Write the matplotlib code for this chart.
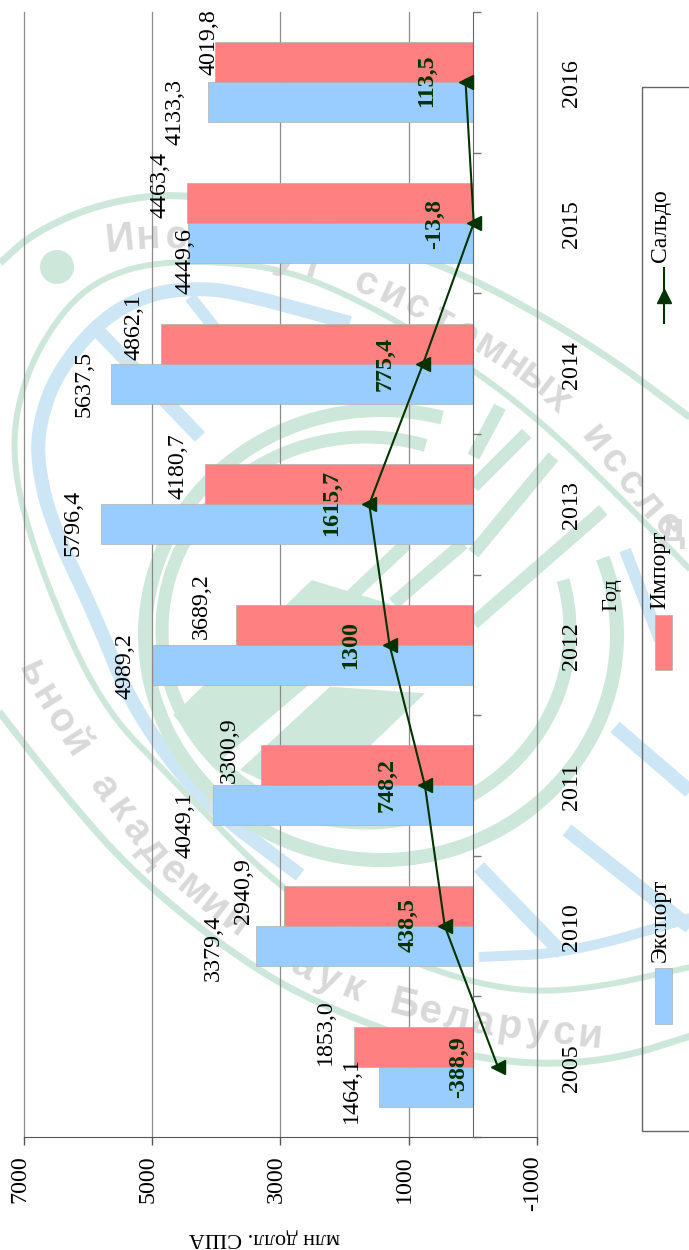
import numpy as np
import matplotlib
matplotlib.use("Agg")
import matplotlib.pyplot as plt
from matplotlib.patches import Rectangle, Polygon
from matplotlib.transforms import ScaledTranslation

W, H = 689, 1250
DPI = 100

years = ["2005", "2010", "2011", "2012", "2013", "2014", "2015", "2016"]
export = [1464.1, 3379.4, 4049.1, 4989.2, 5796.4, 5637.5, 4449.6, 4133.3]
imports = [1853.0, 2940.9, 3300.9, 3689.2, 4180.7, 4862.1, 4463.4, 4019.8]
saldo = [-388.9, 438.5, 748.2, 1300, 1615.7, 775.4, -13.8, 113.5]
value_ticks = [7000, 5000, 3000, 1000, -1000]

# label placement (pixel centres), same order as the data
export_lab_xy = [(351, 1090), (213, 948), (185, 825), (125, 666), (73, 523), (84, 384), (185, 261), (175, 112)]
import_lab_xy = [(325, 1032), (243, 891), (229, 750), (201, 606), (178, 466), (134, 327), (160, 185), (209, 42)]
saldo_lab_xy = [(459, 1067), (408, 925), (387, 785), (351, 645), (332, 503), (385, 364), (435, 224), (427, 81)]

RED, BLUE = "#FF8080", "#99CCFF"
DARK = "#003300"
SERIF = "Liberation Serif"
FS = 17.3

fig = plt.figure(figsize=(W / DPI, H / DPI), dpi=DPI, facecolor="white")


def px_axes(z):
    a = fig.add_axes([0, 0, 1, 1], zorder=z)
    a.set_xlim(0, W)
    a.set_ylim(H, 0)
    a.axis("off")
    a.patch.set_alpha(0)
    return a


# ---------- watermark (background logo) ----------
wm = px_axes(0)
GR, BL, GY = "#CDE8DA", "#CCE6F5", "#D9D9D9"


def smooth(pts, it=3):
    p = np.array(pts, float)
    for _ in range(it):
        q = 0.75 * p[:-1] + 0.25 * p[1:]
        r = 0.25 * p[:-1] + 0.75 * p[1:]
        n = np.empty((2 * len(q), 2))
        n[0::2], n[1::2] = q, r
        p = np.vstack([p[:1], n, p[-1:]])
    return p


def band(pts, w, color=GR):
    p = smooth(pts)
    wm.plot(p[:, 0], p[:, 1], color=color, lw=w * 0.72, solid_capstyle="butt")


def ell(cx, cy, a, b, t0, t1, w):
    t = np.radians(np.linspace(t0, t1, 300))
    wm.plot(cx + a * np.cos(t), cy + b * np.sin(t), color=GR, lw=w * 0.72, solid_capstyle="butt")


def stroke(a, b, w, color=GR):
    wm.plot([a[0], b[0]], [a[1], b[1]], color=color, lw=w * 0.72, solid_capstyle="butt")


# outer and inner rings, upper and lower halves
band([(0, 263), (33, 233), (100, 203), (183, 192), (300, 215), (400, 250), (483, 283), (600, 350), (700, 425)], 7)
band([(-10, 700), (60, 790), (130, 870), (220, 945), (307, 1000), (439, 1050), (527, 1065), (615, 1060), (700, 1033)], 7)
band([(700, 580), (630, 507), (540, 420), (460, 360), (370, 305), (281, 267), (183, 260), (117, 270), (67, 303),
      (23, 377), (10, 460), (40, 570), (100, 705), (173, 780), (280, 890), (380, 950), (483, 987), (571, 993),
      (700, 965)], 6)
# blue ring and strokes
band([(350, 323), (240, 293), (200, 288), (150, 293), (100, 320), (57, 373), (40, 420), (37, 460), (50, 520),
      (97, 620), (132, 707), (200, 800), (300, 875)], 14, BL)
stroke((100, 333), (200, 437), 14, BL)
stroke((190, 297), (240, 360), 12, BL)
stroke((479, 867), (562, 953), 14, BL)
stroke((567, 830), (700, 935), 14, BL)
stroke((615, 727), (700, 800), 14, BL)
stroke((625, 550), (660, 640), 12, BL)
band([(479, 957), (571, 953), (700, 915)], 10, BL)
wm.add_patch(plt.Circle((57, 267), 17, color=GR, lw=0))
# central circles
ell(381, 635, 236, 225, -20, 285, 14)
ell(366, 630, 204, 193, -15, 287, 13)


def z(x, y):
    return 130 + x / 3, 400 + y / 3


for a, b in [((1030, 670), (1420, 330)), ((1030, 460), (1270, 170)), ((1030, 260), (1190, 100)),
             ((1030, 170), (1110, 20)), ((640, 610), (830, 430)), ((790, 610), (1000, 430))]:
    stroke(z(*a), z(*b), 13)
wm.add_patch(Polygon([z(130, 945), z(545, 540), z(780, 612), z(530, 860), z(255, 1095)], color=GR, lw=0))
wm.add_patch(Polygon([z(600, 860), z(885, 880), z(540, 1210), z(330, 1110)], color=GR, lw=0))


def path_text(s, pts, start_back=False, gap=28, fs=29):
    p = smooth(pts)
    d = np.r_[0, np.cumsum(np.hypot(*np.diff(p, axis=0).T))]
    offs = np.arange(len(s)) * gap
    if start_back:
        offs = d[-1] - offs[::-1]
    for ch, o in zip(s, offs):
        x, y = np.interp(o, d, p[:, 0]), np.interp(o, d, p[:, 1])
        x2, y2 = np.interp(o + 6, d, p[:, 0]), np.interp(o + 6, d, p[:, 1])
        x1, y1 = np.interp(o - 6, d, p[:, 0]), np.interp(o - 6, d, p[:, 1])
        rot = np.degrees(np.arctan2(-(y2 - y1), x2 - x1))
        wm.text(x, y, ch, fontsize=fs, color=GY, rotation=rot, rotation_mode="anchor", ha="center", va="center",
                family="Liberation Sans", fontweight="bold")


path_text("Институт системных исслед",
          [(120, 240), (157, 236), (220, 240), (350, 277), (417, 305), (510, 360), (570, 407), (630, 483), (672, 530)])
path_text("ьной академии наук Беларуси",
          [(30, 668), (40, 690), (115, 805), (180, 885), (325, 985), (480, 1025), (590, 1036)], True, 27)

# ---------- main chart ----------
ax = fig.add_axes([24 / W, 1 - 1137 / H, (537 - 24) / W, (1137 - 12) / H], zorder=1)
ax.patch.set_alpha(0)
ax.set_xlim(7000, -1000)
ax.set_ylim(0, len(years))

pos = np.arange(len(years)) + 0.5
h = 40 / 140.6
ax.barh(pos - h / 2, export, height=h, color=BLUE, edgecolor="#b0b0b0", linewidth=0.5, zorder=3)
ax.barh(pos + h / 2, imports, height=h, color=RED, edgecolor="#b0b0b0", linewidth=0.5, zorder=3)
ax.plot(saldo, pos, color=DARK, lw=1.5, marker="<", ms=9.5, mfc=DARK, mec=DARK, zorder=5, clip_on=False)

ax.set_xticks(value_ticks)
ax.set_xticklabels([str(v) for v in value_ticks], rotation=90, fontsize=FS, family=SERIF, va="top", ha="center",
                   color="black")
ax.tick_params(axis="x", length=8 * 72 / DPI, width=1, color="#555555", pad=7.5)
shift = ScaledTranslation(-4 / DPI, 0, fig.dpi_scale_trans)
for lab in ax.get_xticklabels():
    lab.set_transform(lab.get_transform() + shift)
ax.xaxis.grid(True, color="#8c8c8c", lw=0.9, zorder=2)
for gl in ax.get_xgridlines():
    gl.set_clip_on(False)
ax.set_axisbelow(True)

ax.set_yticks(np.arange(len(years) + 1))
ax.yaxis.tick_right()
ax.tick_params(axis="y", length=8 * 72 / DPI, width=1, color="#777777", labelright=False, direction="out")
for s in ["left", "top"]:
    ax.spines[s].set_visible(False)
ax.spines["right"].set_position(("data", 0))
ax.spines["right"].set_color("#666666")
ax.spines["right"].set_zorder(4)
ax.spines["bottom"].set_color("#555555")

# ---------- overlay text ----------
ov = px_axes(2)


def rtext(x, y, s, **kw):
    kw.setdefault("fontsize", FS)
    kw.setdefault("color", "black")
    ov.text(x, y, s, rotation=kw.pop("rotation", 90), ha="center", va="center", family=SERIF, **kw)


for v, (x, y) in zip(export, export_lab_xy):
    rtext(x, y, f"{v:.1f}".replace(".", ","))
for v, (x, y) in zip(imports, import_lab_xy):
    rtext(x, y, f"{v:.1f}".replace(".", ","))
for v, (x, y) in zip(saldo, saldo_lab_xy):
    rtext(x, y, f"{v:g}".replace(".", ","), color=DARK, fontweight="bold")

for i, yr in enumerate(years):
    rtext(571, 1137 - 140.6 * (i + 0.5) + 1, yr)

rtext(612, 595, "Год", fontsize=16)
rtext(264, 1238, "млн долл. США", rotation=180, fontsize=16)

# legend
ov.add_patch(Rectangle((641.5, 87), 60, 1044, fill=False, edgecolor="#666666", lw=1))
ov.add_patch(Rectangle((655, 968), 17, 56, facecolor=BLUE, edgecolor="#b0b0b0", lw=0.5))
ov.add_patch(Rectangle((655, 615), 17, 55, facecolor=RED, edgecolor="#b0b0b0", lw=0.5))
ov.plot([663.5, 663.5], [323, 268], color=DARK, lw=1.5)
ov.plot([663.5], [296], marker="^", ms=9.5, color=DARK)
rtext(660, 920, "Экспорт", fontsize=17)
rtext(660, 570, "Импорт", fontsize=17)
rtext(660, 226, "Сальдо", fontsize=17)

fig.savefig("out.png", dpi=DPI, facecolor="white")
